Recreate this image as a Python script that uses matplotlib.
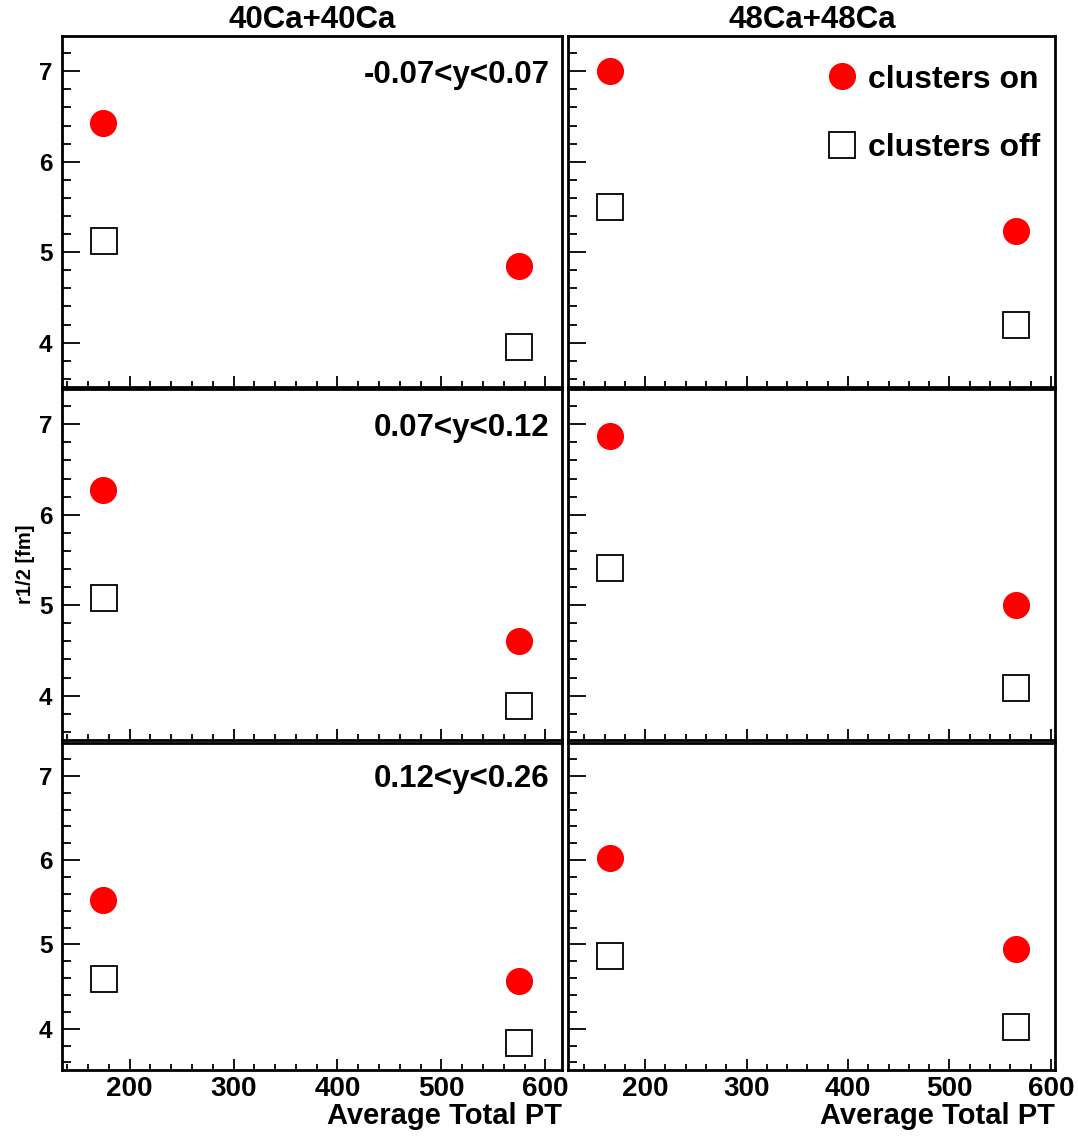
import matplotlib
matplotlib.use("Agg")
import matplotlib.pyplot as plt
from matplotlib.ticker import MultipleLocator

plt.rcParams['font.family'] = ['Liberation Sans', 'DejaVu Sans']
plt.rcParams['font.weight'] = 'bold'

# data: rows = rapidity bins, columns = systems
systems = ["40Ca+40Ca", "48Ca+48Ca"]
y_bins = ["-0.07<y<0.07", "0.07<y<0.12", "0.12<y<0.26"]

pt_on = [[174, 575], [165, 566]]
pt_off = [[175, 575], [165, 566]]

# r1/2 values, clusters on / off, [system][ybin][pt point]
r_on = [
    [[6.43, 4.85], [6.27, 4.60], [5.53, 4.57]],
    [[7.00, 5.23], [6.87, 5.00], [6.02, 4.94]],
]
r_off = [
    [[5.12, 3.95], [5.08, 3.89], [4.59, 3.83]],
    [[5.50, 4.20], [5.41, 4.09], [4.86, 4.02]],
]

W, H = 1078, 1137
fig = plt.figure(figsize=(W / 100, H / 100), dpi=100)

col_x = [(62, 562), (568, 1055)]
row_y = [(36, 387), (389, 740), (743, 1070)]
xlims = [(135, 616), (124, 604)]

for c in range(2):
    for r in range(3):
        x0, x1 = col_x[c]
        y0, y1 = row_y[r]
        ax = fig.add_axes([x0 / W, 1 - y1 / H, (x1 - x0) / W, (y1 - y0) / H])
        ax.plot(pt_on[c], r_on[c][r], 'o', color='red', markersize=18.5,
                markeredgecolor='red', label='clusters on')
        ax.plot(pt_off[c], r_off[c][r], 's', markerfacecolor='none',
                markeredgecolor='black', markersize=18.5, markeredgewidth=1.3,
                label='clusters off')
        ax.set_xlim(*xlims[c])
        ax.set_ylim(3.51, 7.39)
        ax.xaxis.set_major_locator(MultipleLocator(100))
        ax.xaxis.set_minor_locator(MultipleLocator(20))
        ax.yaxis.set_major_locator(MultipleLocator(1))
        ax.yaxis.set_minor_locator(MultipleLocator(0.2))
        ax.tick_params(axis='y', which='major', direction='in', length=13, width=1.3)
        ax.tick_params(axis='y', which='minor', direction='in', length=6.5, width=1.3)
        ax.tick_params(axis='x', which='major', direction='in', length=8, width=1.3)
        ax.tick_params(axis='x', which='minor', direction='in', length=4, width=1.3)
        ax.tick_params(axis='y', labelsize=17.5, pad=7)
        ax.tick_params(axis='x', labelsize=20, pad=4)
        for sp in ax.spines.values():
            sp.set_linewidth(2)
        if c == 1:
            ax.tick_params(axis='y', labelleft=False)
        if r < 2:
            ax.tick_params(axis='x', labelbottom=False)
        else:
            ax.set_xlabel("Average Total PT", fontsize=21, fontweight='bold',
                          loc='right', labelpad=0)
        if c == 0:
            ax.text(0.975, 0.89, y_bins[r], transform=ax.transAxes,
                    ha='right', va='center', fontsize=22.5, fontweight='bold')
        if c == 0 and r == 1:
            ax.set_ylabel("r1/2 [fm]", fontsize=14.5, fontweight='bold', labelpad=3)
        if c == 1 and r == 0:
            ax.legend(loc='upper right', frameon=False, fontsize=23,
                      labelspacing=1.2, handletextpad=0.3, borderaxespad=0.0,
                      handlelength=1.0, bbox_to_anchor=(0.995, 0.955))

fig.text(312 / W, 1 - 20 / H, systems[0], ha='center', va='center',
         fontsize=22.5, fontweight='bold')
fig.text(812 / W, 1 - 20 / H, systems[1], ha='center', va='center',
         fontsize=22.5, fontweight='bold')

fig.savefig("out.png", dpi=100)
